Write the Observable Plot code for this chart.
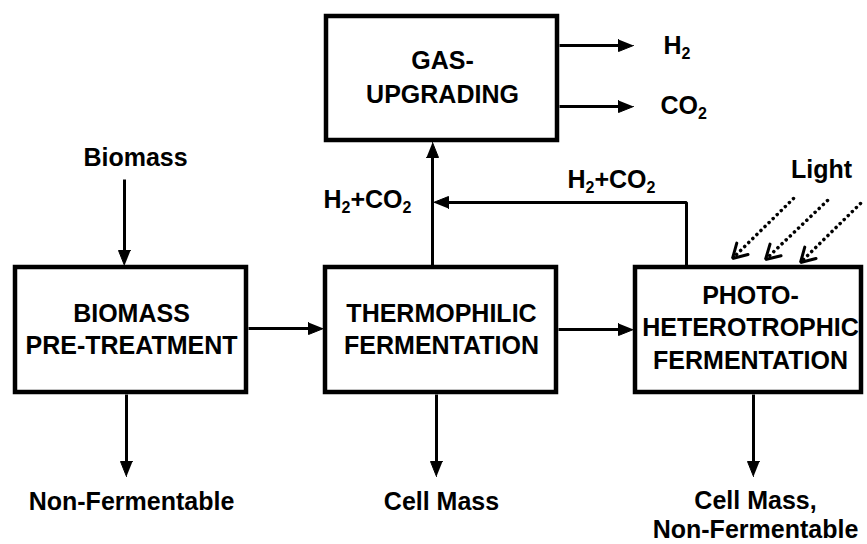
<!DOCTYPE html>
<html><head><meta charset="utf-8">
<script src="https://cdn.jsdelivr.net/npm/d3@7"></script>
<script src="https://cdn.jsdelivr.net/npm/@observablehq/plot@0.6"></script>
<style>body{margin:0;background:#fff} svg{display:block}</style>
</head><body><div id="chart"></div>
<script>
const W = 867, H = 544;

// ---- process boxes (labels + layout) ----
const boxLabels = ["GAS-\nUPGRADING", "BIOMASS\nPRE-TREATMENT", "THERMOPHILIC\nFERMENTATION", "PHOTO-\nHETEROTROPHIC\nFERMENTATION"];
const boxLeft   = [326, 15, 325, 635];
const boxRight  = [557, 246, 556, 861];
const boxTop    = [16, 267, 267, 267];
const boxBottom = [140, 392, 392, 392];
const boxLabelX = [442, 131, 441, 750];
const boxLabelBaseline = [102, 353, 353, 368];
const boxLineHeight = [1.36, 1.27, 1.27, 1.3];

// ---- flows (solid arrows with filled heads) ----
const flowNames = ["biomass in", "pre-treatment → thermophilic", "thermophilic → photo", "thermophilic → gas", "gas → H2", "gas → CO2", "photo → gas", "pre-treatment out", "thermophilic out", "photo out"];
const flowPaths = [
  [[124, 179], [124, 265]],
  [[248, 328], [323, 328]],
  [[558, 329], [633, 329]],
  [[432, 265], [432, 142]],
  [[559, 45], [633, 45]],
  [[559, 106], [633, 106]],
  [[686, 265], [686, 202], [433, 202]],
  [[126, 394], [126, 476]],
  [[436, 394], [436, 476]],
  [[753, 394], [753, 476]]
];

// ---- light rays (dotted arrows) ----
const lightStart = [[793, 198], [827, 200], [860, 203]];
const lightTip   = [[732, 258], [765, 259], [800, 262]];

// ---- free labels ----
const labelText   = ["Biomass", "Light", "H_2", "CO_2", "H_2+CO_2", "H_2+CO_2", "Non-Fermentable", "Cell Mass", "Cell Mass,\nNon-Fermentable"];
const labelX      = [135, 821, 663, 660, 323, 567, 131, 441, 755];
const labelY      = [165, 177, 53, 113, 207, 187, 509, 509, 537];
const labelAnchor = ["middle", "middle", "start", "start", "start", "start", "middle", "middle", "middle"];

// ---- derived geometry ----
const headLen = 15, headHalf = 6;
const shaftPts = [], headPts = [];
flowPaths.forEach((path, i) => {
  const p1 = path[path.length - 1], p0 = path[path.length - 2];
  const dx = p1[0] - p0[0], dy = p1[1] - p0[1], L = Math.hypot(dx, dy);
  const ux = dx / L, uy = dy / L, nx = -uy, ny = ux;
  path.forEach((p, j) => {
    if (j === path.length - 1) shaftPts.push({id: i, x: p[0] - ux * (headLen - 2), y: p[1] - uy * (headLen - 2)});
    else shaftPts.push({id: i, x: p[0], y: p[1]});
  });
  const bx = p1[0] - ux * headLen, by = p1[1] - uy * headLen;
  headPts.push({id: i, x: p1[0], y: p1[1]});
  headPts.push({id: i, x: bx + nx * headHalf, y: by + ny * headHalf});
  headPts.push({id: i, x: bx - nx * headHalf, y: by - ny * headHalf});
});

const rays = [], rayHeads = [];
const armLen = 16, armAng = 30 * Math.PI / 180;
lightStart.forEach((s, i) => {
  const t = lightTip[i];
  const dx = t[0] - s[0], dy = t[1] - s[1], L = Math.hypot(dx, dy);
  const bx = -dx / L, by = -dy / L;
  rays.push({x1: s[0], y1: s[1], x2: t[0] + bx * 3, y2: t[1] + by * 3});
  const rot = a => [bx * Math.cos(a) - by * Math.sin(a), bx * Math.sin(a) + by * Math.cos(a)];
  const a1 = rot(armAng), a2 = rot(-armAng);
  rayHeads.push({id: i, x: t[0] + a1[0] * armLen, y: t[1] + a1[1] * armLen});
  rayHeads.push({id: i, x: t[0], y: t[1]});
  rayHeads.push({id: i, x: t[0] + a2[0] * armLen, y: t[1] + a2[1] * armLen});
});

const boxes = boxLabels.map((label, i) => ({label, x1: boxLeft[i], x2: boxRight[i], y1: boxTop[i], y2: boxBottom[i], lx: boxLabelX[i], ly: boxLabelBaseline[i]}));
const labels = labelText.map((text, i) => ({text, x: labelX[i], y: labelY[i], anchor: labelAnchor[i]}));

const font = {fontSize: 25, fontWeight: "bold", fill: "black", lineAnchor: "bottom"};

const chart = Plot.plot({
  width: W, height: H, margin: 0,
  x: {domain: [0, W], range: [0, W], axis: null},
  y: {domain: [0, H], range: [0, H], axis: null},
  style: {background: "white", fontFamily: "'Liberation Sans', Arial, sans-serif"},
  marks: [
    Plot.rect(boxes, {x1: "x1", x2: "x2", y1: "y1", y2: "y2", fill: "white", stroke: "black", strokeWidth: 4.5, strokeLinejoin: "miter"}),
    ...boxes.map((b, i) => Plot.text([b], {x: "lx", y: "ly", text: "label", ...font, lineHeight: boxLineHeight[i]})),
    Plot.line(shaftPts, {x: "x", y: "y", z: "id", stroke: "black", strokeWidth: 3, strokeLinejoin: "miter", strokeLinecap: "butt"}),
    Plot.line(headPts, {x: "x", y: "y", z: "id", fill: "black", stroke: "black", strokeWidth: 1}),
    Plot.link(rays, {x1: "x1", y1: "y1", x2: "x2", y2: "y2", stroke: "black", strokeWidth: 3.5, strokeDasharray: "0.1,5.6", strokeLinecap: "round"}),
    Plot.line(rayHeads, {x: "x", y: "y", z: "id", stroke: "black", strokeWidth: 3, strokeLinejoin: "miter"}),
    ...["start", "middle"].map(a => Plot.text(labels.filter(d => d.anchor === a), {x: "x", y: "y", text: "text", textAnchor: a, ...font, lineHeight: 1.16}))
  ]
});

// subscripts: "_2" -> real subscript tspans
const ns = "http://www.w3.org/2000/svg";
chart.querySelectorAll("text").forEach(t => {
  if (t.querySelector("tspan")) return;
  const s = t.textContent;
  if (!s.includes("_")) return;
  t.textContent = "";
  s.split(/_(\d)/).forEach((p, i) => {
    if (!p) return;
    const ts = document.createElementNS(ns, "tspan");
    if (i % 2) { ts.setAttribute("font-size", "16"); ts.setAttribute("dy", "5"); }
    else if (i > 0) ts.setAttribute("dy", "-5");
    ts.textContent = p;
    t.appendChild(ts);
  });
});

document.getElementById("chart").appendChild(chart);
</script>
</body></html>
